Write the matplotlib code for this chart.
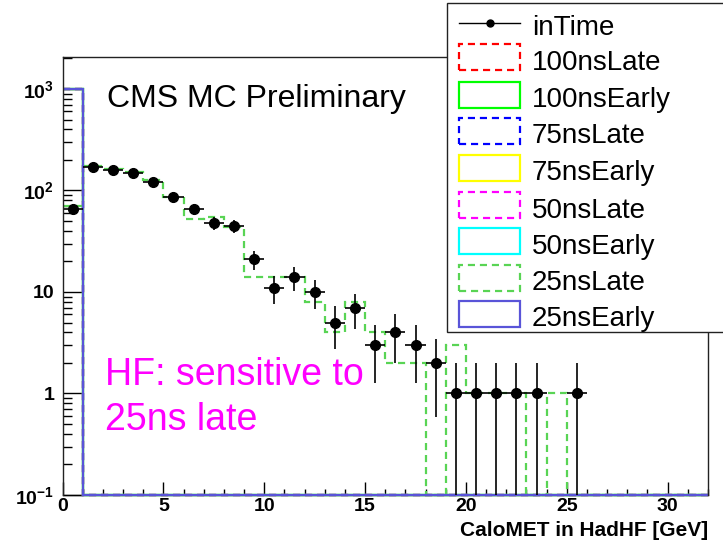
import numpy as np
import matplotlib
matplotlib.use("Agg")
import matplotlib.pyplot as plt
from matplotlib.lines import Line2D
from matplotlib.patches import Rectangle
from matplotlib.ticker import FixedLocator, FixedFormatter, NullFormatter

plt.rcParams['font.family'] = ['Liberation Sans', 'DejaVu Sans']
plt.rcParams['mathtext.fontset'] = 'custom'
plt.rcParams['mathtext.rm'] = 'Liberation Sans'
plt.rcParams['mathtext.bf'] = 'Liberation Sans:bold'

# ---- data -------------------------------------------------------------
bin_edges = np.arange(0, 33)  # 1 GeV bins, 0..32 GeV

in_time = np.array([65, 172, 160, 149, 122, 87, 66, 48, 45, 21, 11, 14, 10, 5, 7,
                    3, 4, 3, 2, 1, 1, 1, 1, 1, 0, 1, 0, 0, 0, 0, 0, 0], dtype=float)

late_25ns = np.array([71, 174, 163, 151, 127, 86, 52, 55, 44, 14, 14, 14, 8, 4, 8,
                      4, 2, 2, 0, 3, 1, 1, 1, 0, 1, 0, 0, 0, 0, 0, 0, 0], dtype=float)

# shifted samples far out of time: everything lands in the first bin
far_shift = np.zeros(32)
far_shift[0] = 1000

series_names = ['inTime', '100nsLate', '100nsEarly', '75nsLate', '75nsEarly',
                '50nsLate', '50nsEarly', '25nsLate', '25nsEarly']
series_values = {
    '100nsLate': far_shift, '100nsEarly': far_shift,
    '75nsLate': far_shift, '75nsEarly': far_shift,
    '50nsLate': far_shift, '50nsEarly': far_shift,
    '25nsLate': late_25ns, '25nsEarly': far_shift,
}
series_colors = {
    'inTime': 'black',
    '100nsLate': '#ff0000', '100nsEarly': '#00ff00',
    '75nsLate': '#0000ff', '75nsEarly': '#ffff00',
    '50nsLate': '#ff00ff', '50nsEarly': '#00ffff',
    '25nsLate': '#59d454', '25nsEarly': '#5954d8',
}
series_dashed = {'100nsLate': True, '100nsEarly': False, '75nsLate': True,
                 '75nsEarly': False, '50nsLate': True, '50nsEarly': False,
                 '25nsLate': True, '25nsEarly': False}

x_ticks = [0, 5, 10, 15, 20, 25, 30]
x_tick_labels = ['0', '5', '10', '15', '20', '25', '30']
y_ticks = [0.1, 1, 10, 100, 1000]
y_tick_labels = [r'$\mathbf{10^{-1}}$', '1', '10', r'$\mathbf{10^{2}}$', r'$\mathbf{10^{3}}$']

# ---- figure -----------------------------------------------------------
W, H = 723, 543
fig = plt.figure(figsize=(W / 100, H / 100), dpi=100)


def fx(px):
    return px / W


def fy(py):
    return 1 - py / H


ax_l, ax_r, ax_t, ax_b = 62.5, 708, 57.3, 495
ax = fig.add_axes([fx(ax_l), fy(ax_b), fx(ax_r - ax_l), (ax_b - ax_t) / H])
ax.set_yscale('log')
ymin, ymax = 0.1, 2050
ax.set_xlim(0, 32)
ax.set_ylim(ymin, ymax)

dash = (0, (3.2, 2.2))
z_order = {'25nsLate': 3, '25nsEarly': 4}
for name in series_names[1:]:
    vals = np.maximum(series_values[name], ymin)
    ax.stairs(vals, bin_edges, baseline=None, color=series_colors[name],
              lw=1.6, linestyle=dash if series_dashed[name] else '-',
              zorder=z_order.get(name, 2), clip_on=False)

centers = 0.5 * (bin_edges[:-1] + bin_edges[1:])
mask = in_time > 0
yv = in_time[mask]
err = np.sqrt(yv)
err_lo = yv - np.maximum(yv - err, 1e-4)
ax.errorbar(centers[mask], yv, xerr=0.5, yerr=[err_lo, err], fmt='o',
            color='black', ms=7, elinewidth=1.2, capsize=0, zorder=5)

# axes styling
for sp in ax.spines.values():
    sp.set_color('#222222')
    sp.set_linewidth(1.0)
    sp.set_zorder(6)
ax.spines['bottom'].set_zorder(1)

ax.xaxis.set_major_locator(FixedLocator(x_ticks))
ax.xaxis.set_major_formatter(FixedFormatter(x_tick_labels))
ax.xaxis.set_minor_locator(FixedLocator(np.arange(0, 33, 1)))
ax.yaxis.set_major_locator(FixedLocator(y_ticks))
ax.yaxis.set_major_formatter(FixedFormatter(y_tick_labels))
minor_y = [m * 10.0 ** e for e in range(-1, 4) for m in range(2, 10)]
ax.yaxis.set_minor_locator(FixedLocator(minor_y))
ax.yaxis.set_minor_formatter(NullFormatter())

ax.tick_params(axis='x', which='major', direction='in', length=9.5, width=1,
               labelsize=14, pad=2.5, top=False)
ax.tick_params(axis='x', which='minor', direction='in', length=4.5, width=1, top=False)
ax.tick_params(axis='y', which='major', direction='in', length=13.5, width=1,
               labelsize=14, pad=6, right=False)
ax.tick_params(axis='y', which='minor', direction='in', length=6.5, width=1, right=False)
for lbl in ax.get_xticklabels() + ax.get_yticklabels():
    lbl.set_fontweight('bold')

# axis title, right-aligned with the end of the x axis
fig.text(fx(ax_r), fy(536.5), 'CaloMET in HadHF [GeV]', fontsize=15,
         fontweight='bold', ha='right', va='baseline')

# annotations
fig.text(fx(107), fy(107), 'CMS MC Preliminary', fontsize=23, color='black',
         va='baseline', ha='left')
fig.text(fx(105), fy(385), 'HF: sensitive to', fontsize=27, color='#ff00ff',
         va='baseline', ha='left')
fig.text(fx(105), fy(430), '25ns late', fontsize=27, color='#ff00ff',
         va='baseline', ha='left')

# ---- legend -----------------------------------------------------------
leg_l, leg_t, leg_b = 446.7, 3.0, 331.7
fig.add_artist(Rectangle((fx(leg_l), fy(leg_b)), fx(W + 20 - leg_l), (leg_b - leg_t) / H,
                         transform=fig.transFigure, facecolor='white',
                         edgecolor='#222222', lw=1.0, zorder=10, clip_on=False))
row_y = [22.7, 57, 94.5, 131, 167.5, 205, 241, 277.5, 314]
box_l, box_r, box_h = 459, 520, 26
text_x = 531.7
for name, yc in zip(series_names, row_y):
    col = series_colors[name]
    if name == 'inTime':
        fig.add_artist(Line2D([fx(box_l), fx(box_r)], [fy(yc), fy(yc)],
                              transform=fig.transFigure, color=col, lw=1.0, zorder=11))
        fig.add_artist(Line2D([fx((box_l + box_r) / 2)], [fy(yc)], marker='o', ms=5,
                              color=col, transform=fig.transFigure, zorder=11))
    else:
        fig.add_artist(Rectangle((fx(box_l), fy(yc + box_h / 2)), fx(box_r - box_l),
                                 box_h / H, transform=fig.transFigure,
                                 facecolor='none', edgecolor=col, lw=1.6,
                                 linestyle=dash if series_dashed[name] else '-',
                                 zorder=11))
    fig.text(fx(text_x), fy(yc + 12.5), name, fontsize=20, va='baseline',
             ha='left', zorder=12)

fig.savefig('out.png', dpi=100)
